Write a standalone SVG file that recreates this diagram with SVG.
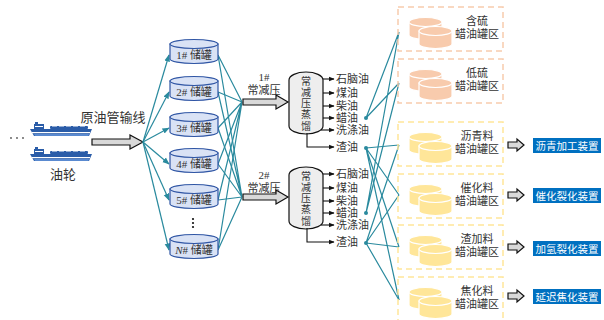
<svg xmlns="http://www.w3.org/2000/svg" width="604" height="320" viewBox="0 0 604 320">
<defs>
<style>
.t{font-family:"Liberation Serif","Noto Sans CJK SC",serif;fill:#333;font-size:11px}
.v{font-family:"Noto Sans CJK SC",sans-serif;fill:#333;font-size:10px;writing-mode:vertical-rl;letter-spacing:1.2px}
.tl{font-family:"Liberation Serif","Noto Sans CJK SC",serif;fill:#333;font-size:13px}
.w{font-family:"Noto Sans CJK SC",sans-serif;fill:#fff;font-size:10.5px}
.c{stroke:#2A8A9E;stroke-width:1.2;fill:none}
.tank{fill:#D9E2F5;stroke:#2F55A4;stroke-width:1.2}
.blk{fill:#D9D9D9;stroke:#111;stroke-width:1.2}
.ob{fill:none;stroke:#F8CBAD;stroke-width:1.5;stroke-dasharray:6,4}
.yb{fill:none;stroke:#FFE699;stroke-width:1.5;stroke-dasharray:6,4}
.oc{fill:#F8CBAD;stroke:#fff;stroke-width:1.2}
.yc{fill:#FFE699;stroke:#fff;stroke-width:1.2}
.out{stroke:#111;stroke-width:1.1;fill:none}
</style>
<marker id="ta" viewBox="0 0 10 10" refX="9" refY="5" markerWidth="6" markerHeight="6" orient="auto"><path d="M0,1 L10,5 L0,9 Z" fill="#2A8A9E"/></marker>
<marker id="ba" viewBox="0 0 10 10" refX="9" refY="5" markerWidth="5" markerHeight="5" orient="auto"><path d="M0,1 L10,5 L0,9 Z" fill="#111"/></marker>
<g id="ship">
<rect x="5" y="0" width="3" height="3" fill="#2A5CA8"/>
<rect x="4" y="2" width="10" height="6" fill="#2A5CA8"/>
<rect x="5" y="4" width="8" height="1" fill="#fff"/>
<rect x="20" y="4" width="38" height="3" rx="1" fill="#2A5CA8"/>
<path d="M22,4 h5 M29,4 h5 M36,4 h5 M43,4 h5 M50,4 h5" stroke="#fff" stroke-width="1"/>
<path d="M0,7 L62,7 L59,14 L4,14 Z" fill="#2A5CA8"/>
<rect x="2" y="10" width="58" height="1.2" fill="#fff"/>
<path d="M4,12 L59,12 L58.5,14 L5,14 Z" fill="#5A8AD0"/>
</g>
<g id="cylO">
<path class="oc" d="M0,0 L0,13 A16.5,4.5 0 0 0 33,13 L33,0 Z"/>
<ellipse class="oc" cx="16.5" cy="0" rx="16.5" ry="4.5"/>
</g>
<g id="cylY">
<path class="yc" d="M0,0 L0,13 A16.5,4.5 0 0 0 33,13 L33,0 Z"/>
<ellipse class="yc" cx="16.5" cy="0" rx="16.5" ry="4.5"/>
</g>
</defs>
<rect width="604" height="320" fill="#fff"/>

<g id="ships">
<use href="#ship" x="30" y="122"/>
<use href="#ship" x="30" y="147"/>
<circle cx="11" cy="138" r="0.9" fill="#555"/><circle cx="17" cy="138" r="0.9" fill="#555"/><circle cx="23" cy="138" r="0.9" fill="#555"/>
<text class="tl" x="63" y="179" text-anchor="middle">油轮</text>
</g>
<g id="pipeline">
<text class="tl" x="113" y="122" text-anchor="middle">原油管输线</text>
<polygon class="blk" points="92,139 130,139 130,135 143,142 130,149 130,145 92,145"/>
</g>

<g id="connectors">
<line class="c" x1="143" y1="142" x2="169" y2="55" marker-end="url(#ta)"/>
<line class="c" x1="143" y1="142" x2="169" y2="92" marker-end="url(#ta)"/>
<line class="c" x1="143" y1="142" x2="169" y2="128" marker-end="url(#ta)"/>
<line class="c" x1="143" y1="142" x2="169" y2="164" marker-end="url(#ta)"/>
<line class="c" x1="143" y1="142" x2="169" y2="200" marker-end="url(#ta)"/>
<line class="c" x1="143" y1="142" x2="169" y2="250" marker-end="url(#ta)"/>
<path class="c" d="M218,55 L242,102 M218,92 L242,102 M218,128 L242,102 M218,164 L242,102 M218,200 L242,102 M218,250 L242,102"/>
<path class="c" d="M218,55 L242,197 M218,92 L242,197 M218,128 L242,197 M218,164 L242,197 M218,200 L242,197 M218,250 L242,197"/>
<path class="c" d="M366,118 L399,32 M366,118 L399,83 M366,213 L399,32 M366,213 L399,83"/>
<path class="c" d="M366,148 L399,145 M366,148 L399,195 M366,148 L399,247 M366,148 L399,300"/>
<path class="c" d="M366,243 L399,145 M366,243 L399,195 M366,243 L399,247 M366,243 L399,300"/>
<circle cx="366" cy="118" r="2" fill="#2A8A9E"/>
<circle cx="366" cy="148" r="2" fill="#2A8A9E"/>
<circle cx="366" cy="213" r="2" fill="#2A8A9E"/>
<circle cx="366" cy="243" r="2" fill="#2A8A9E"/>
</g>

<g id="tank1"><path class="tank" d="M170,44 L170,59 A24,4.5 0 0 0 218,59 L218,44 Z"/><ellipse class="tank" cx="194" cy="44" rx="24" ry="4.5"/><text class="t" x="194" y="59" text-anchor="middle">1# 储罐</text></g>
<g id="tank2"><path class="tank" d="M170,81 L170,96 A24,4.5 0 0 0 218,96 L218,81 Z"/><ellipse class="tank" cx="194" cy="81" rx="24" ry="4.5"/><text class="t" x="194" y="96" text-anchor="middle">2# 储罐</text></g>
<g id="tank3"><path class="tank" d="M170,117 L170,132 A24,4.5 0 0 0 218,132 L218,117 Z"/><ellipse class="tank" cx="194" cy="117" rx="24" ry="4.5"/><text class="t" x="194" y="132" text-anchor="middle">3# 储罐</text></g>
<g id="tank4"><path class="tank" d="M170,153 L170,168 A24,4.5 0 0 0 218,168 L218,153 Z"/><ellipse class="tank" cx="194" cy="153" rx="24" ry="4.5"/><text class="t" x="194" y="168" text-anchor="middle">4# 储罐</text></g>
<g id="tank5"><path class="tank" d="M170,189 L170,204 A24,4.5 0 0 0 218,204 L218,189 Z"/><ellipse class="tank" cx="194" cy="189" rx="24" ry="4.5"/><text class="t" x="194" y="204" text-anchor="middle">5# 储罐</text></g>
<g id="dots"><circle cx="193" cy="219" r="1.1" fill="#111"/><circle cx="193" cy="223" r="1.1" fill="#111"/><circle cx="193" cy="227" r="1.1" fill="#111"/></g>
<g id="tankN"><path class="tank" d="M170,239 L170,254 A24,4.5 0 0 0 218,254 L218,239 Z"/><ellipse class="tank" cx="194" cy="239" rx="24" ry="4.5"/><text class="t" x="194" y="254" text-anchor="middle"><tspan font-style="italic">N</tspan># 储罐</text></g>

<g id="unit1">
<text class="t" x="264" y="81" text-anchor="middle">1#</text>
<text class="t" x="264" y="94" text-anchor="middle">常减压</text>
<polygon class="blk" points="243,99 276,99 276,95 288,102 276,109 276,105 243,105"/>
<path d="M289,80 A17,8 0 0 1 323,80 L323,126 A17,8 0 0 1 289,126 Z" fill="#EEEEEE" stroke="#111" stroke-width="1.2"/>
<text class="v" x="306" y="104" text-anchor="middle">常减压蒸馏</text>
<line class="out" x1="323" y1="79" x2="334" y2="79" marker-end="url(#ba)"/>
<line class="out" x1="323" y1="93" x2="334" y2="93" marker-end="url(#ba)"/>
<line class="out" x1="323" y1="106" x2="334" y2="106" marker-end="url(#ba)"/>
<line class="out" x1="323" y1="118" x2="334" y2="118" marker-end="url(#ba)"/>
<line class="out" x1="321" y1="130" x2="334" y2="130" marker-end="url(#ba)"/>
<path class="out" d="M307,133 V147 H334" marker-end="url(#ba)"/>
<text class="t" x="336" y="83">石脑油</text>
<text class="t" x="336" y="97">煤油</text>
<text class="t" x="336" y="110">柴油</text>
<text class="t" x="336" y="122">蜡油</text>
<text class="t" x="336" y="134">洗涤油</text>
<text class="t" x="336" y="151">渣油</text>
</g>

<g id="unit2">
<text class="t" x="264" y="179" text-anchor="middle">2#</text>
<text class="t" x="264" y="192" text-anchor="middle">常减压</text>
<polygon class="blk" points="243,194 276,194 276,190 288,197 276,204 276,200 243,200"/>
<path d="M289,175 A17,8 0 0 1 323,175 L323,221 A17,8 0 0 1 289,221 Z" fill="#EEEEEE" stroke="#111" stroke-width="1.2"/>
<text class="v" x="306" y="199" text-anchor="middle">常减压蒸馏</text>
<line class="out" x1="323" y1="174" x2="334" y2="174" marker-end="url(#ba)"/>
<line class="out" x1="323" y1="188" x2="334" y2="188" marker-end="url(#ba)"/>
<line class="out" x1="323" y1="201" x2="334" y2="201" marker-end="url(#ba)"/>
<line class="out" x1="323" y1="213" x2="334" y2="213" marker-end="url(#ba)"/>
<line class="out" x1="321" y1="225" x2="334" y2="225" marker-end="url(#ba)"/>
<path class="out" d="M307,228 V242 H334" marker-end="url(#ba)"/>
<text class="t" x="336" y="178">石脑油</text>
<text class="t" x="336" y="192">煤油</text>
<text class="t" x="336" y="205">柴油</text>
<text class="t" x="336" y="217">蜡油</text>
<text class="t" x="336" y="229">洗涤油</text>
<text class="t" x="336" y="246">渣油</text>
</g>

<g id="zone1"><rect class="ob" x="398" y="7" width="105" height="44"/><use href="#cylO" x="409" y="22"/><use href="#cylO" x="419" y="31"/><text class="t" x="477" y="25" text-anchor="middle">含硫</text><text class="t" x="477" y="38" text-anchor="middle">蜡油罐区</text></g>
<g id="zone2"><rect class="ob" x="398" y="59" width="105" height="44"/><use href="#cylO" x="409" y="74"/><use href="#cylO" x="419" y="83"/><text class="t" x="477" y="77" text-anchor="middle">低硫</text><text class="t" x="477" y="90" text-anchor="middle">蜡油罐区</text></g>
<g id="zone3"><rect class="yb" x="398" y="122" width="105" height="44"/><use href="#cylY" x="409" y="137"/><use href="#cylY" x="419" y="146"/><text class="t" x="477" y="140" text-anchor="middle">沥青料</text><text class="t" x="477" y="153" text-anchor="middle">蜡油罐区</text></g>
<g id="zone4"><rect class="yb" x="398" y="174" width="105" height="44"/><use href="#cylY" x="409" y="189"/><use href="#cylY" x="419" y="198"/><text class="t" x="477" y="192" text-anchor="middle">催化料</text><text class="t" x="477" y="205" text-anchor="middle">蜡油罐区</text></g>
<g id="zone5"><rect class="yb" x="398" y="225" width="105" height="44"/><use href="#cylY" x="409" y="240"/><use href="#cylY" x="419" y="249"/><text class="t" x="477" y="243" text-anchor="middle">渣加料</text><text class="t" x="477" y="256" text-anchor="middle">蜡油罐区</text></g>
<g id="zone6"><rect class="yb" x="398" y="277" width="105" height="44"/><use href="#cylY" x="409" y="292"/><use href="#cylY" x="419" y="301"/><text class="t" x="477" y="295" text-anchor="middle">焦化料</text><text class="t" x="477" y="308" text-anchor="middle">蜡油罐区</text></g>

<g id="dest1"><polygon class="blk" points="508,142 517,142 517,139 524,145 517,151 517,148 508,148"/><rect x="533" y="138" width="68" height="15" fill="#0070C0"/><text class="w" x="567" y="149.5" text-anchor="middle">沥青加工装置</text></g>
<g id="dest2"><polygon class="blk" points="508,192 517,192 517,189 524,195 517,201 517,198 508,198"/><rect x="533" y="188" width="68" height="15" fill="#0070C0"/><text class="w" x="567" y="199.5" text-anchor="middle">催化裂化装置</text></g>
<g id="dest3"><polygon class="blk" points="508,244 517,244 517,241 524,247 517,253 517,250 508,250"/><rect x="533" y="241" width="68" height="15" fill="#0070C0"/><text class="w" x="567" y="252.5" text-anchor="middle">加氢裂化装置</text></g>
<g id="dest4"><polygon class="blk" points="508,293 517,293 517,290 524,296 517,302 517,299 508,299"/><rect x="533" y="289" width="68" height="15" fill="#0070C0"/><text class="w" x="567" y="300.5" text-anchor="middle">延迟焦化装置</text></g>
</svg>
